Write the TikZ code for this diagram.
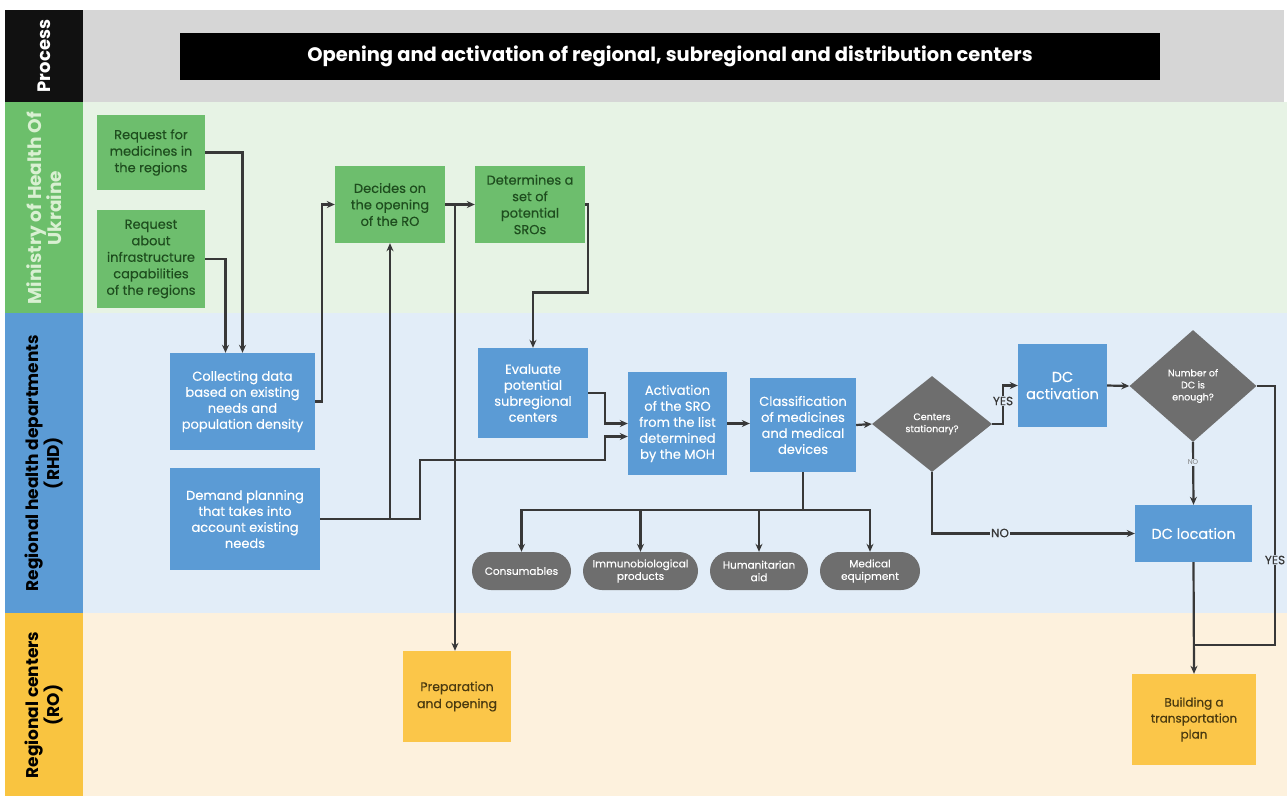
\documentclass[tikz,border=0pt]{standalone}
\usepackage{fontspec}
\setmainfont{Poppins}
\newfontfamily\medfont{Poppins}[FakeBold=0.35]
\usetikzlibrary{shapes.geometric,arrows.meta,calc}

\definecolor{laneK}{HTML}{111111}
\definecolor{laneG}{HTML}{6CBF6B}
\definecolor{laneB}{HTML}{5B9BD5}
\definecolor{laneY}{HTML}{F9C440}
\definecolor{bgK}{HTML}{D6D6D6}
\definecolor{bgG}{HTML}{E7F3E5}
\definecolor{bgB}{HTML}{E2EDF8}
\definecolor{bgY}{HTML}{FDF1DD}
\definecolor{boxG}{HTML}{6DBE6D}
\definecolor{txtG}{HTML}{1E4D1E}
\definecolor{boxB}{HTML}{5B9BD5}
\definecolor{boxY}{HTML}{FBC649}
\definecolor{txtY}{HTML}{4A3A10}
\definecolor{grayD}{HTML}{6E6E6E}
\definecolor{wire}{HTML}{383838}
\definecolor{paleG}{HTML}{D9F0D2}

\tikzset{
  gbox/.style={rectangle, fill=boxG, text=txtG, align=center, inner sep=1pt,
    font=\medfont\fontsize{13}{16.5}\selectfont},
  bbox/.style={rectangle, fill=boxB, text=white, align=center, inner sep=1pt,
    font=\medfont\fontsize{13}{16}\selectfont},
  ybox/.style={rectangle, fill=boxY, text=txtY, align=center, inner sep=1pt,
    font=\medfont\fontsize{12.5}{17}\selectfont},
  pill/.style={rectangle, rounded corners=19pt, fill=grayD, text=white, align=center,
    inner sep=1pt, minimum height=38pt, font=\medfont\fontsize{10.5}{12.5}\selectfont},
  decision/.style={diamond, fill=grayD, text=white, align=center, inner sep=0pt,
    font=\medfont\fontsize{9.5}{12}\selectfont},
  arr/.style={draw=wire, line width=2.2pt, -{Stealth[length=8pt,width=7pt]}},
  wireline/.style={draw=wire, line width=2.2pt},
  lanelabel/.style={rotate=90, align=center, font=\bfseries\fontsize{17}{19}\selectfont},
  tag/.style={inner sep=1pt, text=wire, font=\medfont\fontsize{12}{13}\selectfont},
}

\begin{document}
\begin{tikzpicture}[x=1pt, y=-1pt]
\useasboundingbox (0,0) rectangle (1287,796);
\fill[white] (0,0) rectangle (1287,796);

% swimlane backgrounds
\fill[bgK] (83,10) rectangle (1284,102);
\fill[bgG] (83,102) rectangle (1287,313);
\fill[bgB] (83,313) rectangle (1287,613);
\fill[bgY] (83,613) rectangle (1287,796);

% swimlane headers
\fill[laneK] (5,10) rectangle (83,102);
\fill[laneG] (5,102) rectangle (83,313);
\fill[laneB] (5,313) rectangle (83,613);
\fill[laneY] (5,613) rectangle (83,796);
\node[lanelabel, text=white, font=\bfseries\fontsize{18}{20}\selectfont] (hP) at (44,56) {Process};
\node[lanelabel, text=paleG, font=\bfseries\fontsize{18.5}{20}\selectfont] (hM) at (44,208) {Ministry of Health Of\\Ukraine};
\node[lanelabel, text=black] (hR) at (44,463) {Regional health departments\\(RHD)};
\node[lanelabel, text=black] (hC) at (44,705) {Regional centers\\(RO)};

% title bar
\node[fill=black, text=white, minimum width=980pt, minimum height=47pt,
  font=\bfseries\fontsize{19.5}{21}\selectfont] (title) at (670,56.5)
  {Opening and activation of regional, subregional and distribution centers};

% Ministry lane
\node[gbox, minimum width=108pt, minimum height=75pt] (rm) at (151,152.5)
  {Request for\\medicines in\\the regions};
\node[gbox, minimum width=108pt, minimum height=98pt] (ri) at (151,259)
  {Request\\about\\infrastructure\\capabilities\\of the regions};
\node[gbox, minimum width=110pt, minimum height=77pt] (dec) at (390,204.5)
  {Decides on\\the opening\\of the RO};
\node[gbox, minimum width=110pt, minimum height=77pt] (det) at (530,204.5)
  {Determines a\\set of\\potential\\SROs};

% RHD lane
\node[bbox, minimum width=145pt, minimum height=97pt] (cd) at (242.5,401.5)
  {Collecting data\\based on existing\\needs and\\population density};
\node[bbox, minimum width=150pt, minimum height=102pt] (dp) at (245,519)
  {Demand planning\\that takes into\\account existing\\needs};
\node[bbox, minimum width=110pt, minimum height=90pt] (ev) at (533,393)
  {Evaluate\\potential\\subregional\\centers};
\node[bbox, minimum width=99pt, minimum height=103pt] (act) at (677.5,423.5)
  {Activation\\of the SRO\\from the list\\determined\\by the MOH};
\node[bbox, minimum width=106pt, minimum height=94pt] (cls) at (803,425)
  {Classification\\of medicines\\and medical\\devices};
\node[decision, minimum width=120pt, minimum height=96pt] (d1) at (932,424)
  {Centers\\stationary?};
\node[bbox, minimum width=89pt, minimum height=83pt, font=\medfont\fontsize{14.5}{17}\selectfont] (dca) at (1062.5,385.5)
  {DC\\activation};
\node[decision, minimum width=127pt, minimum height=112pt] (d2) at (1193,386)
  {Number of\\DC is\\enough?};
\node[bbox, minimum width=117pt, minimum height=57pt, font=\medfont\fontsize{14.5}{17}\selectfont] (dcl) at (1193.5,533.5)
  {DC location};

\node[pill, minimum width=99pt] (p1) at (521.5,571) {Consumables};
\node[pill, minimum width=115pt] (p2) at (640.5,571) {Immunobiological\\products};
\node[pill, minimum width=98pt] (p3) at (759,571) {Humanitarian\\aid};
\node[pill, minimum width=100pt] (p4) at (870,571) {Medical\\equipment};

% RO lane
\node[ybox, minimum width=108pt, minimum height=91pt] (prep) at (457,696.5)
  {Preparation\\and opening};
\node[ybox, minimum width=124pt, minimum height=91pt, font=\medfont\fontsize{12}{16}\selectfont] (bp) at (1194,719.5)
  {Building a\\transportation\\plan};

% connectors: Ministry requests into data collection
\draw[arr] (rm.east) -| (cd.north);
\draw[arr] (ri.east) -| ([xshift=-17pt]cd.north);
\draw[arr] (cd.east) -- ++(7,0) |- (dec.west);
\draw[arr] (dp.east) -| (dec.south);
\draw[arr] (dp.east) -- ++(100,0) -- ++(0,-59) -- ++(185,0) |- ([yshift=-13pt]act.west);

% Ministry decisions
\draw[arr] (dec.east) -- (det.west);
\draw[arr] (dec.east) -| ([xshift=-2pt]prep.north);
\draw[arr] (det.east) -- ++(3,0) -- ++(0,88) -| (ev.north);

% subregional centres
\draw[arr] (ev.east) -- ++(17,0) |- (act.west);
\draw[arr] (act.east) -- (act.east -| cls.west);
\draw[arr] (cls.east) -- (d1.west);
\foreach \p in {p1,p2,p3,p4}
  \draw[arr] (cls.south) -- ++(0,38) -| (\p.north);

% distribution centres
\draw[arr] (d1.east) -- ++(11,0) |- (dca.west);
\node[tag, fill=bgB] (yes1) at (1003,401) {YES};
\draw[arr] (d1.south) |- (dcl.west);
\node[tag, fill=bgB] (no1) at (1000,533) {NO};
\draw[arr] (dca.east) -- (d2.west);
\draw[arr] (d2.south) -- (dcl.north);
\node[tag, fill=bgB, text=gray, font=\fontsize{7}{8}\selectfont] (no2) at (1193,462) {NO};
\coordinate (join) at (1193.5,645);
\draw[wireline] (d2.east) -- ++(18,0) |- (join);
\node[tag, fill=bgB] (yes2) at (1275,560) {YES};
\draw[arr] (dcl.south) -- (bp.north);
\end{tikzpicture}
\end{document}
